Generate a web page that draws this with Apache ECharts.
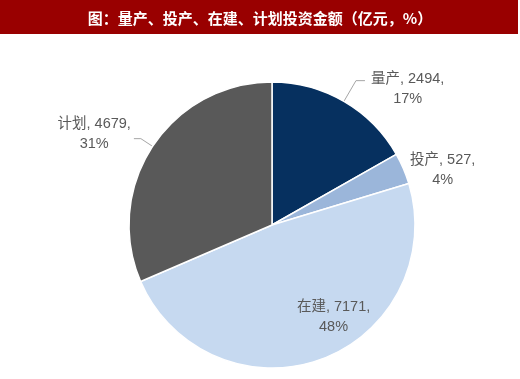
<!DOCTYPE html>
<html>
<head>
<meta charset="utf-8">
<script src="https://cdn.jsdelivr.net/npm/echarts@6/dist/echarts.min.js"></script>
<style>
html,body{margin:0;padding:0;background:#fff;}
#chart{width:520px;height:379px;}
</style>
</head>
<body>
<div id="chart"></div>
<script>
const titleText = '图：量产、投产、在建、计划投资金额（亿元，%）';
const categories = ['量产', '投产', '在建', '计划'];
const values = [2494, 527, 7171, 4679];
const colors = ['#06305f', '#9bb6da', '#c6d9f0', '#595959'];

const chart = echarts.init(document.getElementById('chart'), null, {renderer: 'canvas'});
const labelFont = "'Liberation Sans', 'Noto Sans CJK SC', sans-serif";

const data = categories.map((c, i) => {
  const item = { name: c, value: values[i], itemStyle: { color: colors[i] } };
  if (i === 1) {
    item.label = { position: 'outside' };
    item.labelLine = { show: false, length: 4, length2: 0 };
  }
  if (i === 2) {
    item.label = { position: 'inside' };
  }
  if (i === 3) {
    item.labelLine = { length: 14, length2: 7 };
  }
  return item;
});

chart.setOption({
  backgroundColor: '#ffffff',
  animation: false,
  graphic: [{
    type: 'rect',
    shape: { x: 0, y: 0, width: 518, height: 34 },
    style: { fill: '#990000' },
    z: 0
  }],
  title: {
    text: titleText,
    left: 'center',
    top: 6,
    textStyle: {
      color: '#ffffff',
      fontSize: 15,
      fontWeight: 'bold',
      fontFamily: "'Noto Sans CJK SC', sans-serif"
    }
  },
  series: [{
    type: 'pie',
    center: [272, 225],
    radius: [0, 143],
    startAngle: 90,
    clockwise: true,
    percentPrecision: 0,
    avoidLabelOverlap: false,
    itemStyle: { borderColor: '#ffffff', borderWidth: 1.5 },
    label: {
      show: true,
      formatter: '{b}, {c},\n{d}%',
      color: '#595959',
      fontSize: 14.5,
      lineHeight: 20,
      fontFamily: labelFont
    },
    labelLine: {
      show: true,
      length: 24,
      length2: 9,
      lineStyle: { color: '#a6a6a6', width: 1 }
    },
    labelLayout: function (p) {
      const w = p.labelRect.width;
      if (p.dataIndex === 0) return { align: 'center', dx: w / 2 + 1, dy: 8 };
      if (p.dataIndex === 1) return { align: 'center', dx: w / 2 - 2, dy: 3 };
      if (p.dataIndex === 2) return { dx: 36, dy: 22 };
      if (p.dataIndex === 3) return { align: 'center', dx: -w / 2 + 2, dy: -5 };
      return {};
    },
    emphasis: { disabled: true },
    data: data
  }]
});
</script>
</body>
</html>
